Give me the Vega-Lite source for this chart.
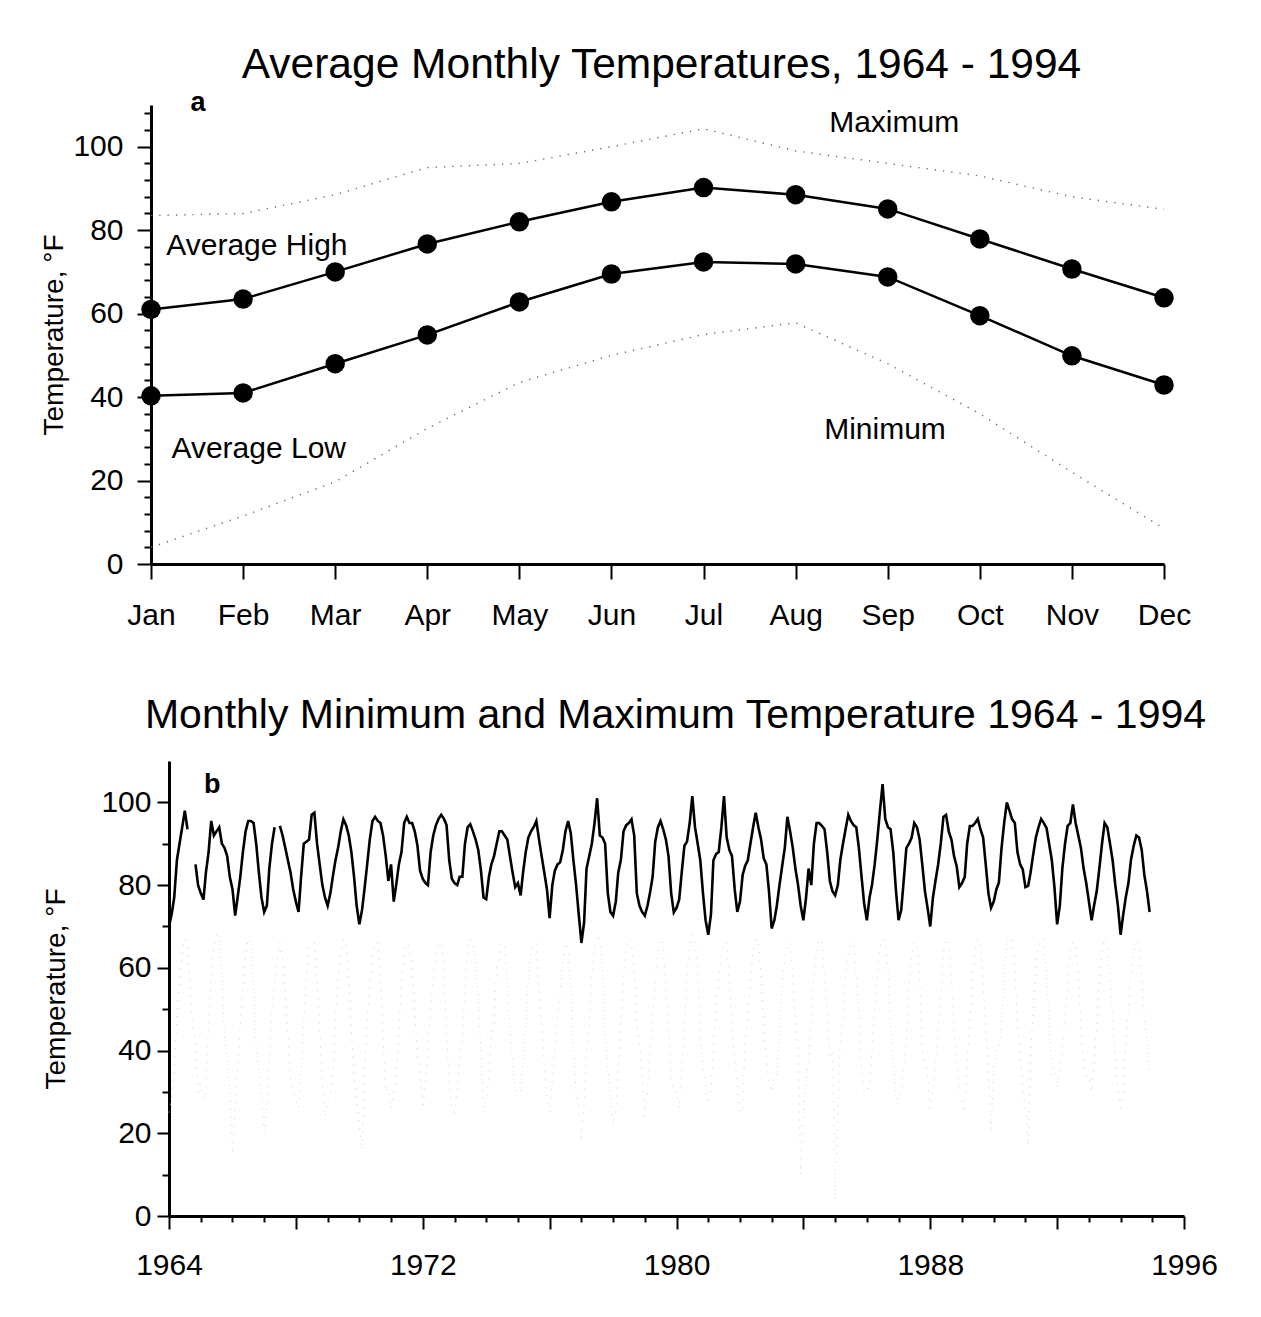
{
"$schema": "https://vega.github.io/schema/vega-lite/v6.json",
"background": "white",
"padding": {"left": 40, "top": 44, "right": 5, "bottom": 5},
"config": {
  "font": "Liberation Sans",
  "view": {"stroke": null},
  "axis": {"domainColor": "black", "domainWidth": 3, "tickColor": "black", "tickWidth": 2, "labelColor": "black", "titleColor": "black", "labelFontSize": 30, "titleFontSize": 28, "titleFontWeight": "normal", "grid": false, "labelFlush": false, "labelOverlap": false},
  "title": {"fontWeight": "normal", "color": "black", "anchor": "middle"}
},
"datasets": {
  "monthly": [
    {"m": 1, "high": 61, "low": 40.3, "max": 83.5, "min": 4},
    {"m": 2, "high": 63.5, "low": 41, "max": 84, "min": 11.5},
    {"m": 3, "high": 70, "low": 48, "max": 88.5, "min": 19.7},
    {"m": 4, "high": 76.7, "low": 54.9, "max": 95, "min": 32.5},
    {"m": 5, "high": 82, "low": 62.8, "max": 96, "min": 43.5},
    {"m": 6, "high": 86.8, "low": 69.5, "max": 100, "min": 50},
    {"m": 7, "high": 90.2, "low": 72.4, "max": 104.3, "min": 55},
    {"m": 8, "high": 88.5, "low": 71.9, "max": 99, "min": 57.8},
    {"m": 9, "high": 85.1, "low": 68.8, "max": 96, "min": 48},
    {"m": 10, "high": 77.9, "low": 59.5, "max": 93, "min": 36},
    {"m": 11, "high": 70.7, "low": 49.9, "max": 88, "min": 22},
    {"m": 12, "high": 63.8, "low": 42.9, "max": 85, "min": 8.5}
  ],
  "labelsA": [
    {"m": 9.07, "temp": 105.7, "label": "Maximum"},
    {"m": 2.15, "temp": 76.2, "label": "Average High"},
    {"m": 2.17, "temp": 27.6, "label": "Average Low"},
    {"m": 8.97, "temp": 32.1, "label": "Minimum"}
  ],
  "series": [
{"d":"1964-01","max":70,"min":25},{"d":"1964-02","max":73,"min":29},{"d":"1964-03","max":77,"min":36},{"d":"1964-04","max":86,"min":48},{"d":"1964-05","max":90,"min":57},{"d":"1964-06","max":94,"min":64},{"d":"1964-07","max":98,"min":67},{"d":"1964-08","max":93.5,"min":66},{"d":"1964-09","max":null,"min":55},{"d":"1964-10","max":null,"min":45},{"d":"1964-11","max":85,"min":43},{"d":"1964-12","max":80,"min":30},
{"d":"1965-01","max":78,"min":32},{"d":"1965-02","max":76.5,"min":28},{"d":"1965-03","max":83,"min":30},{"d":"1965-04","max":88,"min":47},{"d":"1965-05","max":95.5,"min":58},{"d":"1965-06","max":92,"min":65},{"d":"1965-07","max":93,"min":68},{"d":"1965-08","max":94,"min":67},{"d":"1965-09","max":90,"min":58},{"d":"1965-10","max":89,"min":43},{"d":"1965-11","max":87,"min":38},{"d":"1965-12","max":82,"min":31},
{"d":"1966-01","max":79,"min":15},{"d":"1966-02","max":72.6,"min":27},{"d":"1966-03","max":77,"min":36},{"d":"1966-04","max":82,"min":46},{"d":"1966-05","max":88,"min":55},{"d":"1966-06","max":93,"min":63},{"d":"1966-07","max":95.5,"min":67},{"d":"1966-08","max":95.5,"min":66},{"d":"1966-09","max":95,"min":55},{"d":"1966-10","max":90,"min":40},{"d":"1966-11","max":83,"min":35},{"d":"1966-12","max":77,"min":29},
{"d":"1967-01","max":73.5,"min":20},{"d":"1967-02","max":75,"min":27},{"d":"1967-03","max":84,"min":38},{"d":"1967-04","max":90,"min":50},{"d":"1967-05","max":94,"min":56},{"d":"1967-06","max":null,"min":62},{"d":"1967-07","max":94.3,"min":66},{"d":"1967-08","max":92,"min":62},{"d":"1967-09","max":89,"min":54},{"d":"1967-10","max":86,"min":44},{"d":"1967-11","max":83,"min":33},{"d":"1967-12","max":79,"min":30},
{"d":"1968-01","max":76,"min":28},{"d":"1968-02","max":73.5,"min":26},{"d":"1968-03","max":82,"min":35},{"d":"1968-04","max":90,"min":47},{"d":"1968-05","max":90.5,"min":58},{"d":"1968-06","max":91,"min":65},{"d":"1968-07","max":97,"min":66},{"d":"1968-08","max":97.5,"min":66},{"d":"1968-09","max":90,"min":57},{"d":"1968-10","max":85,"min":45},{"d":"1968-11","max":80,"min":32},{"d":"1968-12","max":77,"min":24},
{"d":"1969-01","max":75,"min":28},{"d":"1969-02","max":78,"min":30},{"d":"1969-03","max":82,"min":33},{"d":"1969-04","max":86,"min":48},{"d":"1969-05","max":89,"min":57},{"d":"1969-06","max":93,"min":64},{"d":"1969-07","max":95.9,"min":67},{"d":"1969-08","max":94.5,"min":66},{"d":"1969-09","max":92,"min":58},{"d":"1969-10","max":88,"min":45},{"d":"1969-11","max":82,"min":34},{"d":"1969-12","max":75,"min":28},
{"d":"1970-01","max":70.5,"min":22},{"d":"1970-02","max":74,"min":16},{"d":"1970-03","max":79,"min":35},{"d":"1970-04","max":85,"min":48},{"d":"1970-05","max":91,"min":55},{"d":"1970-06","max":95.5,"min":64},{"d":"1970-07","max":96.5,"min":66},{"d":"1970-08","max":95.5,"min":66},{"d":"1970-09","max":95,"min":58},{"d":"1970-10","max":92,"min":43},{"d":"1970-11","max":87,"min":30},{"d":"1970-12","max":81,"min":31},
{"d":"1971-01","max":85,"min":26},{"d":"1971-02","max":76,"min":30},{"d":"1971-03","max":80,"min":33},{"d":"1971-04","max":85,"min":45},{"d":"1971-05","max":88,"min":56},{"d":"1971-06","max":95,"min":64},{"d":"1971-07","max":96.5,"min":66},{"d":"1971-08","max":95,"min":65},{"d":"1971-09","max":95,"min":60},{"d":"1971-10","max":93,"min":50},{"d":"1971-11","max":89.5,"min":38},{"d":"1971-12","max":83.5,"min":36},
{"d":"1972-01","max":81.5,"min":26},{"d":"1972-02","max":80.5,"min":32},{"d":"1972-03","max":80,"min":40},{"d":"1972-04","max":88,"min":51},{"d":"1972-05","max":92,"min":57},{"d":"1972-06","max":94.5,"min":64},{"d":"1972-07","max":96,"min":66},{"d":"1972-08","max":97,"min":66},{"d":"1972-09","max":96,"min":60},{"d":"1972-10","max":94.5,"min":45},{"d":"1972-11","max":86,"min":32},{"d":"1972-12","max":81.5,"min":26},
{"d":"1973-01","max":80.5,"min":25},{"d":"1973-02","max":80,"min":29},{"d":"1973-03","max":82,"min":40},{"d":"1973-04","max":82,"min":42},{"d":"1973-05","max":90,"min":55},{"d":"1973-06","max":94,"min":65},{"d":"1973-07","max":94.7,"min":67},{"d":"1973-08","max":93,"min":66},{"d":"1973-09","max":91,"min":62},{"d":"1973-10","max":88.5,"min":52},{"d":"1973-11","max":83.5,"min":40},{"d":"1973-12","max":77,"min":26},
{"d":"1974-01","max":76.6,"min":28},{"d":"1974-02","max":82,"min":33},{"d":"1974-03","max":85,"min":44},{"d":"1974-04","max":87,"min":46},{"d":"1974-05","max":90,"min":60},{"d":"1974-06","max":93,"min":63},{"d":"1974-07","max":93,"min":66},{"d":"1974-08","max":92,"min":66},{"d":"1974-09","max":91,"min":55},{"d":"1974-10","max":87,"min":45},{"d":"1974-11","max":83,"min":38},{"d":"1974-12","max":79.5,"min":30},
{"d":"1975-01","max":80.5,"min":30},{"d":"1975-02","max":77.5,"min":30},{"d":"1975-03","max":83,"min":38},{"d":"1975-04","max":88,"min":46},{"d":"1975-05","max":91.5,"min":58},{"d":"1975-06","max":93,"min":64},{"d":"1975-07","max":94,"min":66},{"d":"1975-08","max":95.5,"min":66},{"d":"1975-09","max":91,"min":54},{"d":"1975-10","max":87,"min":46},{"d":"1975-11","max":83,"min":36},{"d":"1975-12","max":79,"min":28},
{"d":"1976-01","max":72,"min":25},{"d":"1976-02","max":80,"min":33},{"d":"1976-03","max":83.5,"min":40},{"d":"1976-04","max":85,"min":48},{"d":"1976-05","max":85.5,"min":54},{"d":"1976-06","max":88.5,"min":62},{"d":"1976-07","max":93,"min":66},{"d":"1976-08","max":95.5,"min":65},{"d":"1976-09","max":92.5,"min":56},{"d":"1976-10","max":86,"min":40},{"d":"1976-11","max":80,"min":30},{"d":"1976-12","max":73,"min":26},
{"d":"1977-01","max":66,"min":18},{"d":"1977-02","max":71,"min":27},{"d":"1977-03","max":84,"min":40},{"d":"1977-04","max":87,"min":46},{"d":"1977-05","max":90,"min":58},{"d":"1977-06","max":95,"min":65},{"d":"1977-07","max":101,"min":68},{"d":"1977-08","max":92,"min":67},{"d":"1977-09","max":91.5,"min":60},{"d":"1977-10","max":90,"min":44},{"d":"1977-11","max":78,"min":36},{"d":"1977-12","max":73.5,"min":30},
{"d":"1978-01","max":72.6,"min":22},{"d":"1978-02","max":76,"min":25},{"d":"1978-03","max":83,"min":35},{"d":"1978-04","max":86.2,"min":47},{"d":"1978-05","max":93,"min":58},{"d":"1978-06","max":94.5,"min":65},{"d":"1978-07","max":95,"min":67},{"d":"1978-08","max":95.9,"min":66},{"d":"1978-09","max":92,"min":60},{"d":"1978-10","max":78,"min":46},{"d":"1978-11","max":75,"min":42},{"d":"1978-12","max":73.5,"min":34},
{"d":"1979-01","max":72.6,"min":24},{"d":"1979-02","max":75,"min":30},{"d":"1979-03","max":78,"min":40},{"d":"1979-04","max":82,"min":48},{"d":"1979-05","max":90.5,"min":56},{"d":"1979-06","max":94,"min":64},{"d":"1979-07","max":95.5,"min":67},{"d":"1979-08","max":93.5,"min":66},{"d":"1979-09","max":91,"min":54},{"d":"1979-10","max":87,"min":47},{"d":"1979-11","max":78,"min":33},{"d":"1979-12","max":73.4,"min":30},
{"d":"1980-01","max":74.5,"min":30},{"d":"1980-02","max":76.5,"min":26},{"d":"1980-03","max":83,"min":36},{"d":"1980-04","max":89.5,"min":45},{"d":"1980-05","max":90.5,"min":58},{"d":"1980-06","max":95,"min":65},{"d":"1980-07","max":101.5,"min":68},{"d":"1980-08","max":94,"min":67},{"d":"1980-09","max":90,"min":60},{"d":"1980-10","max":86,"min":44},{"d":"1980-11","max":78,"min":35},{"d":"1980-12","max":71.5,"min":32},
{"d":"1981-01","max":68,"min":27},{"d":"1981-02","max":73,"min":30},{"d":"1981-03","max":86,"min":40},{"d":"1981-04","max":87.5,"min":52},{"d":"1981-05","max":88,"min":57},{"d":"1981-06","max":94,"min":63},{"d":"1981-07","max":101.5,"min":66},{"d":"1981-08","max":91.5,"min":66},{"d":"1981-09","max":88.5,"min":56},{"d":"1981-10","max":87,"min":46},{"d":"1981-11","max":79,"min":38},{"d":"1981-12","max":73.5,"min":32},
{"d":"1982-01","max":76,"min":25},{"d":"1982-02","max":82.5,"min":26},{"d":"1982-03","max":84.6,"min":42},{"d":"1982-04","max":86,"min":48},{"d":"1982-05","max":90,"min":57},{"d":"1982-06","max":94,"min":64},{"d":"1982-07","max":97.5,"min":67},{"d":"1982-08","max":94,"min":66},{"d":"1982-09","max":91,"min":58},{"d":"1982-10","max":86.5,"min":46},{"d":"1982-11","max":85,"min":38},{"d":"1982-12","max":78.5,"min":32},
{"d":"1983-01","max":69.5,"min":30},{"d":"1983-02","max":71.5,"min":34},{"d":"1983-03","max":75,"min":34},{"d":"1983-04","max":80,"min":44},{"d":"1983-05","max":84.5,"min":56},{"d":"1983-06","max":89,"min":62},{"d":"1983-07","max":96.5,"min":66},{"d":"1983-08","max":93,"min":66},{"d":"1983-09","max":89,"min":58},{"d":"1983-10","max":84,"min":47},{"d":"1983-11","max":80,"min":40},{"d":"1983-12","max":75,"min":10},
{"d":"1984-01","max":71.5,"min":25},{"d":"1984-02","max":77,"min":32},{"d":"1984-03","max":84,"min":38},{"d":"1984-04","max":80,"min":48},{"d":"1984-05","max":90,"min":58},{"d":"1984-06","max":95,"min":64},{"d":"1984-07","max":95,"min":67},{"d":"1984-08","max":94.3,"min":66},{"d":"1984-09","max":93.5,"min":57},{"d":"1984-10","max":88,"min":50},{"d":"1984-11","max":81,"min":38},{"d":"1984-12","max":78.5,"min":40},
{"d":"1985-01","max":77.5,"min":4},{"d":"1985-02","max":80,"min":28},{"d":"1985-03","max":86,"min":42},{"d":"1985-04","max":90,"min":48},{"d":"1985-05","max":93.5,"min":58},{"d":"1985-06","max":97,"min":64},{"d":"1985-07","max":95.5,"min":66},{"d":"1985-08","max":94.5,"min":67},{"d":"1985-09","max":94,"min":58},{"d":"1985-10","max":89,"min":50},{"d":"1985-11","max":82,"min":35},{"d":"1985-12","max":75.5,"min":30},
{"d":"1986-01","max":71.5,"min":30},{"d":"1986-02","max":77,"min":32},{"d":"1986-03","max":80,"min":40},{"d":"1986-04","max":85,"min":50},{"d":"1986-05","max":91,"min":58},{"d":"1986-06","max":98,"min":65},{"d":"1986-07","max":104.4,"min":67},{"d":"1986-08","max":96,"min":66},{"d":"1986-09","max":94,"min":60},{"d":"1986-10","max":93.5,"min":46},{"d":"1986-11","max":88,"min":38},{"d":"1986-12","max":79,"min":30},
{"d":"1987-01","max":71.5,"min":28},{"d":"1987-02","max":74,"min":30},{"d":"1987-03","max":81,"min":36},{"d":"1987-04","max":89,"min":42},{"d":"1987-05","max":90,"min":56},{"d":"1987-06","max":91.5,"min":63},{"d":"1987-07","max":95,"min":66},{"d":"1987-08","max":94,"min":66},{"d":"1987-09","max":91,"min":58},{"d":"1987-10","max":85,"min":40},{"d":"1987-11","max":78.5,"min":38},{"d":"1987-12","max":74.5,"min":34},
{"d":"1988-01","max":70,"min":26},{"d":"1988-02","max":77,"min":30},{"d":"1988-03","max":81,"min":36},{"d":"1988-04","max":85,"min":46},{"d":"1988-05","max":90,"min":52},{"d":"1988-06","max":96.5,"min":64},{"d":"1988-07","max":97,"min":67},{"d":"1988-08","max":93,"min":66},{"d":"1988-09","max":91,"min":58},{"d":"1988-10","max":87,"min":44},{"d":"1988-11","max":84.5,"min":38},{"d":"1988-12","max":79.5,"min":30},
{"d":"1989-01","max":80.5,"min":28},{"d":"1989-02","max":82,"min":25},{"d":"1989-03","max":90,"min":38},{"d":"1989-04","max":94.3,"min":46},{"d":"1989-05","max":94.3,"min":58},{"d":"1989-06","max":95,"min":64},{"d":"1989-07","max":96,"min":67},{"d":"1989-08","max":93.5,"min":66},{"d":"1989-09","max":91.5,"min":56},{"d":"1989-10","max":85,"min":46},{"d":"1989-11","max":78,"min":36},{"d":"1989-12","max":74.5,"min":20},
{"d":"1990-01","max":76,"min":36},{"d":"1990-02","max":79,"min":40},{"d":"1990-03","max":80.6,"min":40},{"d":"1990-04","max":89,"min":46},{"d":"1990-05","max":95,"min":58},{"d":"1990-06","max":100,"min":66},{"d":"1990-07","max":98,"min":67},{"d":"1990-08","max":95.9,"min":67},{"d":"1990-09","max":95,"min":60},{"d":"1990-10","max":88,"min":46},{"d":"1990-11","max":85,"min":40},{"d":"1990-12","max":83.8,"min":30},
{"d":"1991-01","max":79.5,"min":26},{"d":"1991-02","max":79.8,"min":17},{"d":"1991-03","max":83,"min":38},{"d":"1991-04","max":87.5,"min":50},{"d":"1991-05","max":91.5,"min":60},{"d":"1991-06","max":94,"min":65},{"d":"1991-07","max":96,"min":67},{"d":"1991-08","max":95,"min":67},{"d":"1991-09","max":93.8,"min":58},{"d":"1991-10","max":90,"min":48},{"d":"1991-11","max":86,"min":34},{"d":"1991-12","max":79.5,"min":36},
{"d":"1992-01","max":70.5,"min":31},{"d":"1992-02","max":75,"min":36},{"d":"1992-03","max":84,"min":40},{"d":"1992-04","max":90,"min":48},{"d":"1992-05","max":94.3,"min":56},{"d":"1992-06","max":95,"min":64},{"d":"1992-07","max":99.5,"min":66},{"d":"1992-08","max":95,"min":66},{"d":"1992-09","max":92,"min":58},{"d":"1992-10","max":89,"min":46},{"d":"1992-11","max":84,"min":36},{"d":"1992-12","max":80.5,"min":34},
{"d":"1993-01","max":76,"min":34},{"d":"1993-02","max":71.5,"min":30},{"d":"1993-03","max":75,"min":36},{"d":"1993-04","max":78.5,"min":46},{"d":"1993-05","max":84,"min":57},{"d":"1993-06","max":90,"min":64},{"d":"1993-07","max":95,"min":67},{"d":"1993-08","max":94,"min":66},{"d":"1993-09","max":90,"min":58},{"d":"1993-10","max":86,"min":48},{"d":"1993-11","max":80,"min":38},{"d":"1993-12","max":75,"min":30},
{"d":"1994-01","max":68,"min":26},{"d":"1994-02","max":73,"min":30},{"d":"1994-03","max":77,"min":42},{"d":"1994-04","max":80.5,"min":50},{"d":"1994-05","max":86.2,"min":58},{"d":"1994-06","max":89.5,"min":64},{"d":"1994-07","max":92,"min":66},{"d":"1994-08","max":91.5,"min":66},{"d":"1994-09","max":88.5,"min":58},{"d":"1994-10","max":82.5,"min":48},{"d":"1994-11","max":78.5,"min":42},{"d":"1994-12","max":73.5,"min":34}
  ]
},
"columns": 1,
"bounds": "full",
"spacing": 65,
"concat": [
  {
    "width": 1013,
    "height": 459,
    "title": {"text": "Average Monthly Temperatures, 1964 - 1994", "offset": 2, "fontSize": 42.5, "dx": 4},
    "encoding": {
      "x": {"field": "m", "type": "quantitative", "scale": {"domain": [1, 12], "nice": false, "zero": false},
        "axis": {"values": [1,2,3,4,5,6,7,8,9,10,11,12], "labelExpr": "['Jan','Feb','Mar','Apr','May','Jun','Jul','Aug','Sep','Oct','Nov','Dec'][datum.value-1]", "tickSize": 15, "labelPadding": 21, "title": null}},
      "y": {"field": "temp", "type": "quantitative", "scale": {"domain": [0, 110], "nice": false},
        "axis": {"values": [0,4,8,12,16,20,24,28,32,36,40,44,48,52,56,60,64,68,72,76,80,84,88,92,96,100,104,108], "labelExpr": "datum.value % 20 === 0 ? datum.label : ''", "tickSize": {"condition": {"test": "datum.value % 20 === 0", "value": 14}, "value": 7}, "labelPadding": 14, "title": "Temperature, °F", "titlePadding": 4}}
    },
    "layer": [
      {
        "data": {"name": "monthly"},
        "transform": [{"fold": ["max", "min"], "as": ["series", "temp"]}],
        "mark": {"type": "line", "color": "#6a6a6a", "strokeWidth": 1.4, "strokeDash": [1.3, 7]},
        "encoding": {"detail": {"field": "series"}}
      },
      {
        "data": {"name": "monthly"},
        "transform": [{"fold": ["high", "low"], "as": ["series", "temp"]}],
        "mark": {"type": "line", "color": "black", "strokeWidth": 2.5},
        "encoding": {"detail": {"field": "series"}}
      },
      {
        "data": {"name": "monthly"},
        "transform": [{"fold": ["high", "low"], "as": ["series", "temp"]}],
        "mark": {"type": "point", "filled": true, "color": "black", "opacity": 1, "size": 380},
        "encoding": {"detail": {"field": "series"}}
      },
      {
        "data": {"name": "labelsA"},
        "mark": {"type": "text", "fontSize": 30, "color": "black", "align": "center", "baseline": "middle"},
        "encoding": {"text": {"field": "label"}}
      },
      {
        "data": {"values": [{"m": 1.51, "temp": 110.5, "label": "a"}]},
        "mark": {"type": "text", "fontSize": 27, "fontWeight": "bold", "color": "black", "align": "center", "baseline": "middle"},
        "encoding": {"text": {"field": "label"}}
      }
    ]
  },
  {
    "width": 1033,
    "height": 455,
    "title": {"text": "Monthly Minimum and Maximum Temperature 1964 - 1994", "offset": 24, "fontSize": 41, "dx": 8},
    "encoding": {
      "x": {"field": "d", "type": "temporal", "scale": {"type": "utc", "domain": [{"year": 1964, "month": 1, "date": 1, "utc": true}, {"year": 1996, "month": 1, "date": 1, "utc": true}], "range": [18, 1033], "nice": false},
        "axis": {"values": [
          {"year":1964,"utc":true},{"year":1965,"utc":true},{"year":1966,"utc":true},{"year":1967,"utc":true},{"year":1968,"utc":true},{"year":1969,"utc":true},{"year":1970,"utc":true},{"year":1971,"utc":true},{"year":1972,"utc":true},{"year":1973,"utc":true},{"year":1974,"utc":true},{"year":1975,"utc":true},{"year":1976,"utc":true},{"year":1977,"utc":true},{"year":1978,"utc":true},{"year":1979,"utc":true},{"year":1980,"utc":true},{"year":1981,"utc":true},{"year":1982,"utc":true},{"year":1983,"utc":true},{"year":1984,"utc":true},{"year":1985,"utc":true},{"year":1986,"utc":true},{"year":1987,"utc":true},{"year":1988,"utc":true},{"year":1989,"utc":true},{"year":1990,"utc":true},{"year":1991,"utc":true},{"year":1992,"utc":true},{"year":1993,"utc":true},{"year":1994,"utc":true},{"year":1995,"utc":true},{"year":1996,"utc":true}],
          "labelExpr": "(utcyear(datum.value) - 1964) % 8 === 0 ? utcFormat(datum.value, '%Y') : ''",
          "tickSize": {"condition": {"test": "utcyear(datum.value) % 4 === 0", "value": 13}, "value": 6},
          "labelPadding": 21, "title": null}},
      "y": {"field": "temp", "type": "quantitative", "scale": {"domain": [0, 110], "nice": false},
        "axis": {"values": [0,10,20,30,40,50,60,70,80,90,100], "labelExpr": "datum.value % 20 === 0 ? datum.label : ''", "tickSize": {"condition": {"test": "datum.value % 20 === 0", "value": 12}, "value": 7}, "labelPadding": 6, "title": "Temperature, °F", "titlePadding": 30, "offset": -18}}
    },
    "layer": [
      {
        "data": {"name": "series"},
        "transform": [{"fold": ["min"], "as": ["series", "temp"]}],
        "mark": {"type": "line", "color": "#cfcfcf", "strokeWidth": 1, "strokeDash": [1, 7], "invalid": "break-paths-show-domains"}
      },
      {
        "data": {"name": "series"},
        "transform": [{"fold": ["max"], "as": ["series", "temp"]}],
        "mark": {"type": "line", "color": "black", "strokeWidth": 2.6, "invalid": "break-paths-show-domains"}
      },
      {
        "data": {"values": [{"d": "1965-05-12", "temp": 104.3, "label": "b"}]},
        "mark": {"type": "text", "fontSize": 27, "fontWeight": "bold", "color": "black", "align": "center", "baseline": "middle"},
        "encoding": {"text": {"field": "label"}}
      }
    ]
  }
]
}
